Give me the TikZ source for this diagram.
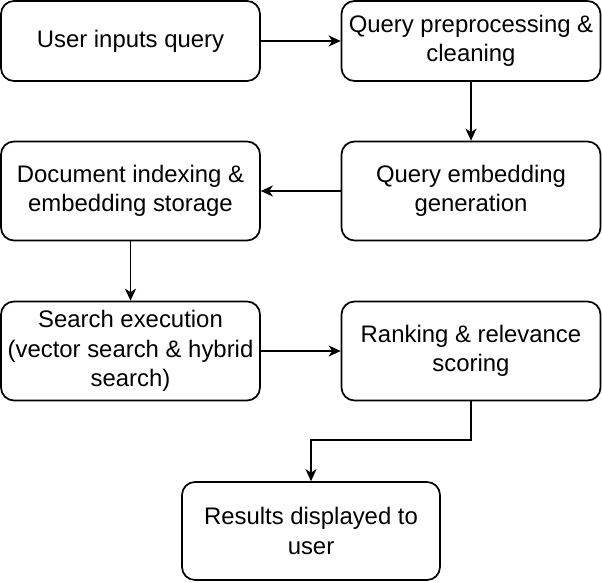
\documentclass[tikz,border=0pt]{standalone}
\usepackage{fontspec}
\setmainfont{Liberation Sans}
\usetikzlibrary{arrows.meta}
\begin{document}
\begin{tikzpicture}[x=1pt,y=-1pt,
  box/.style={draw, line width=1.7pt, rounded corners=13pt, align=center,
    font=\fontsize{23.9}{29.5}\selectfont, inner sep=0pt},
  wide/.style={box, minimum width=259pt, minimum height=80pt},
  tall/.style={box, minimum width=259pt, minimum height=99pt},
  arr/.style={line width=1.7pt, -{Stealth[length=12pt, width=11pt, inset=3.5pt]}}]
\useasboundingbox (0,0) rectangle (602,582);
\node[wide] (n1) at (130.5,41) {User inputs query};
\node[wide] (n2) at (471,41) {Query preprocessing \&\\cleaning};
\node[tall] (n3) at (471,191) {Query embedding\\generation};
\node[tall] (n4) at (130.5,191) {Document indexing \&\\embedding storage};
\node[tall] (n5) at (130.5,351) {Search execution\\(vector search \& hybrid\\search)};
\node[tall] (n6) at (471,351) {Ranking \& relevance\\scoring};
\node[tall, minimum width=258pt, minimum height=98pt] (n7) at (311,531) {Results displayed to\\user};
\draw[arr] (n1) -- (n2);
\draw[arr] (n2) -- (n3);
\draw[arr] (n3) -- (n4);
\draw[arr] (n4) -- (n5);
\draw[arr] (n5) -- (n6);
\coordinate (bend) at (471,440);
\draw[arr] (n6.south) -- (bend) -| (n7.north);
\end{tikzpicture}
\end{document}
